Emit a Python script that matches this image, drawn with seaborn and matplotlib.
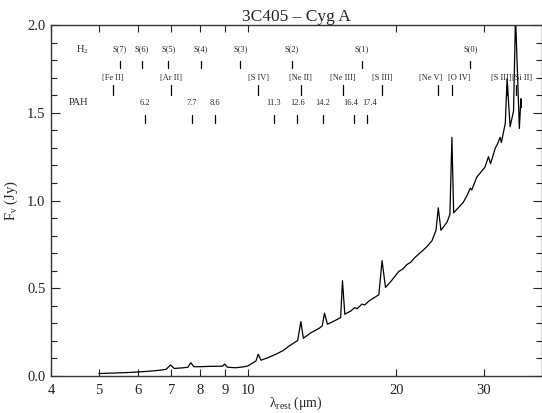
import numpy as np
import pandas as pd
import matplotlib
matplotlib.use('Agg')
import matplotlib.pyplot as plt
from matplotlib.ticker import FixedLocator, NullLocator, MultipleLocator, FormatStrFormatter
import seaborn as sns

# spectrum: rest wavelength (um), flux density (Jy)
wave = [5.00, 5.25, 5.50, 5.75, 6.00, 6.30, 6.60, 6.84, 6.98, 7.10, 7.35, 7.57,
        7.67, 7.78, 8.00, 8.40, 8.90, 8.98, 9.10, 9.46, 9.80, 10.0, 10.39, 10.50,
        10.64, 11.0, 11.4, 11.8, 12.13, 12.62, 12.81, 12.96, 13.4, 13.95, 14.15,
        14.30, 14.5, 15.0, 15.42, 15.55, 15.72, 16.2, 16.45, 16.65, 17.03, 17.25,
        17.6, 18.0, 18.42, 18.70, 19.0, 19.5, 20.2, 20.6, 21.0, 21.4, 21.8, 22.5,
        23.0, 23.6, 24.04, 24.30, 24.6, 25.3, 25.65, 25.89, 26.1, 26.7, 27.3, 27.8,
        28.2, 28.4, 29.07, 29.6, 30.2, 30.7, 31.0, 31.7, 32.0, 32.4, 32.6, 33.2,
        33.48, 33.95, 34.5, 34.82, 35.45, 35.7, 35.8]
flux = [0.014, 0.016, 0.018, 0.020, 0.023, 0.027, 0.032, 0.038, 0.063, 0.043, 0.046, 0.050,
        0.076, 0.053, 0.053, 0.055, 0.056, 0.068, 0.050, 0.047, 0.052, 0.057, 0.085, 0.124,
        0.090, 0.105, 0.124, 0.145, 0.171, 0.202, 0.310, 0.215, 0.245, 0.272, 0.285,
        0.358, 0.295, 0.315, 0.333, 0.543, 0.352, 0.372, 0.390, 0.383, 0.410, 0.405,
        0.428, 0.445, 0.463, 0.657, 0.505, 0.540, 0.595, 0.610, 0.635, 0.650, 0.676, 0.710,
        0.735, 0.771, 0.830, 0.958, 0.830, 0.876, 0.920, 1.360, 0.930, 0.960, 0.990, 1.030,
        1.070, 1.060, 1.133, 1.160, 1.190, 1.250, 1.210, 1.300, 1.320, 1.360, 1.330, 1.440,
        1.695, 1.420, 1.510, 2.050, 1.410, 1.580, 1.530]

h2_names = ['S(7)', 'S(6)', 'S(5)', 'S(4)', 'S(3)', 'S(2)', 'S(1)', 'S(0)']
h2_wave = [5.51, 6.11, 6.91, 8.03, 9.66, 12.28, 17.03, 28.22]

fs_names = ['[Fe II]', '[Ar II]', '[S IV]', '[Ne II]', '[Ne III]', '[S III]',
            '[Ne V]', '[O IV]', '[S III]', '[Si II]']
fs_wave = [5.34, 6.99, 10.51, 12.81, 15.56, 18.71, 24.32, 25.89, 33.48, 34.82]

pah_names = ['6.2', '7.7', '8.6', '11.3', '12.6', '14.2', '16.4', '17.4']
pah_wave = [6.2, 7.7, 8.6, 11.3, 12.6, 14.2, 16.4, 17.4]

xticks = [4, 5, 6, 7, 8, 9, 10, 20, 30]

spec = pd.DataFrame({'wave': wave, 'flux': flux})

sns.set_style('ticks')
plt.rcParams['font.family'] = ['Liberation Serif', 'DejaVu Serif']
plt.rcParams['mathtext.fontset'] = 'custom'
plt.rcParams['mathtext.rm'] = 'Liberation Serif'
plt.rcParams['mathtext.it'] = 'Liberation Serif:italic'

fig = plt.figure(figsize=(5.42, 4.13), dpi=100)
ax = fig.add_axes([51 / 542, 37 / 413, 490.5 / 542, 351 / 413])

sns.lineplot(data=spec, x='wave', y='flux', ax=ax, color='black', lw=0.9,
             sort=False, estimator=None)

ax.set_xscale('log')
ax.set_xlim(4, 39.3)
ax.set_ylim(0, 2.0)
ax.xaxis.set_major_locator(FixedLocator(xticks))
ax.xaxis.set_minor_locator(NullLocator())
ax.set_xticklabels([str(t) for t in xticks])
ax.yaxis.set_major_locator(MultipleLocator(0.5))
ax.yaxis.set_minor_locator(MultipleLocator(0.1))
ax.yaxis.set_major_formatter(FormatStrFormatter('%.1f'))

ax.tick_params(axis='both', which='both', direction='in', top=True, right=True,
               colors='#222222', width=0.8, labelsize=10.5)
ax.tick_params(axis='x', which='major', length=5, pad=6)
ax.tick_params(axis='y', which='major', length=6.5, pad=4)
ax.tick_params(axis='y', which='minor', length=4)
for s in ax.spines.values():
    s.set_color('#333333')
    s.set_linewidth(1.0)

ax.set_title('3C405 – Cyg A', fontsize=12.5, pad=3)
ax.set_xlabel('λ$_{\\mathrm{rest}}$ (μm)', fontsize=10)
ax.xaxis.set_label_coords(0.5, -0.054)
ax.set_ylabel('F$_{\\mathrm{ν}}$ (Jy)', fontsize=10.5, labelpad=5)

# line identification rows
nudge = {'[Ne V]': -6, '[O IV]': 5.5, 'fs8': -4.3, '[Si II]': 4.6, '16.4': -2.4, '17.4': 2.5}

ax.text(4.62, 1.86, 'H$_2$', fontsize=7.5, ha='center', va='center')
for n, w in zip(h2_names, h2_wave):
    ax.text(w, 1.86, n, fontsize=6, ha='center', va='center')
    ax.plot([w, w], [1.795, 1.757], color='black', lw=0.9)

for i, (n, w) in enumerate(zip(fs_names, fs_wave)):
    dx = nudge.get('fs8' if i == 8 else n, 0)
    ax.annotate(n, xy=(w, 1.697), xytext=(dx, 0), textcoords='offset points',
                fontsize=6, ha='center', va='center')
    ax.plot([w, w], [1.66, 1.60], color='black', lw=0.9)

ax.text(4.54, 1.556, 'PAH', fontsize=7.5, ha='center', va='center')
for n, w in zip(pah_names, pah_wave):
    ax.annotate(n, xy=(w, 1.556), xytext=(nudge.get(n, 0), 0), textcoords='offset points',
                fontsize=6, ha='center', va='center')
    ax.plot([w, w], [1.485, 1.44], color='black', lw=0.9)

fig.savefig('out.png', dpi=100)
